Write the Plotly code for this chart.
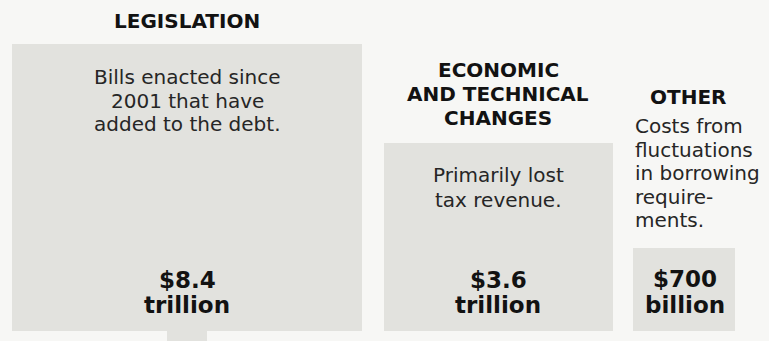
import plotly.graph_objects as go
import numpy as np

# Sources of added federal debt, in trillions of dollars
categories = ["LEGISLATION", "ECONOMIC<br>AND TECHNICAL<br>CHANGES", "OTHER"]
descriptions = [
    "Bills enacted since<br>2001 that have<br>added to the debt.",
    "Primarily lost<br>tax revenue.",
    "Costs from<br>fluctuations<br>in borrowing<br>require-<br>ments.",
]
values_trillions = [8.4, 3.6, 0.7]


def value_label(v):
    if v >= 1:
        return f"${v:.1f}<br>trillion"
    return f"${v * 1000:.0f}<br>billion"


labels = [value_label(v) for v in values_trillions]

# --- layout (pixel-like units, y measured upward from the bottom) ---
W, H = 769, 341
BASE = 10                      # bottom edge of every box
SCALE = 120.8                  # box width per sqrt(trillion): area ~ value
ASPECT = 1.22                  # width / height of each box
centers = [187, 498.5, 684]

widths = [SCALE * np.sqrt(v) for v in values_trillions]
heights = [w / ASPECT for w in widths]

BG = "#f7f7f5"
BOX = "#e2e2de"
INK = "#121212"
BODY = "#262626"
FONT = "DejaVu Sans, Verdana, sans-serif"

fig = go.Figure()
fig.add_trace(go.Bar(
    x=centers,
    y=heights,
    base=BASE,
    width=widths,
    marker=dict(color=BOX, line=dict(width=0)),
    hoverinfo="skip",
    showlegend=False,
))

# small connector stub below the legislation box
fig.add_shape(type="rect", x0=centers[0] - 20, x1=centers[0] + 20, y0=0, y1=BASE,
              fillcolor=BOX, line=dict(width=0), layer="below")

annotations = []


def place_lines(text, x, first_top, step, size, color, bold=False, xanchor="center"):
    """Add one annotation per line; first_top / step are pixel offsets from the top."""
    for i, line in enumerate(text.split("<br>")):
        y_px = first_top + i * step
        annotations.append(dict(
            x=x, y=H - y_px, text=f"<b>{line}</b>" if bold else line,
            xanchor=xanchor, yanchor="middle", showarrow=False,
            xref="x", yref="y",
            font=dict(family=FONT, size=size, color=color),
        ))


# Titles
title_pos = [(187, 21, 24, "center"), (498, 70, 24, "center"), (688, 97, 24, "center")]
for (x, y0, step, xa), t in zip(title_pos, categories):
    place_lines(t, x, y0, step, 20, INK, bold=True, xanchor=xa)

# Descriptions
desc_pos = [(187, 77, 23.5, "center"), (498, 175, 25, "center"), (633, 126, 23.5, "left")]
for (x, y0, step, xa), d in zip(desc_pos, descriptions):
    place_lines(d, x, y0, step, 20, BODY, xanchor=xa)

# Value labels
val_pos = [(187, 280, 25), (498, 280, 25), (685, 279, 26)]
for (x, y0, step), lab in zip(val_pos, labels):
    place_lines(lab, x, y0, step, 23, INK, bold=True)

fig.update_layout(
    width=W, height=H,
    margin=dict(l=0, r=0, t=0, b=0),
    paper_bgcolor=BG, plot_bgcolor=BG,
    xaxis=dict(range=[0, W], visible=False, fixedrange=True),
    yaxis=dict(range=[0, H], visible=False, fixedrange=True),
    annotations=annotations,
    bargap=0,
)

fig.write_html("out.html", config={"displayModeBar": False})
